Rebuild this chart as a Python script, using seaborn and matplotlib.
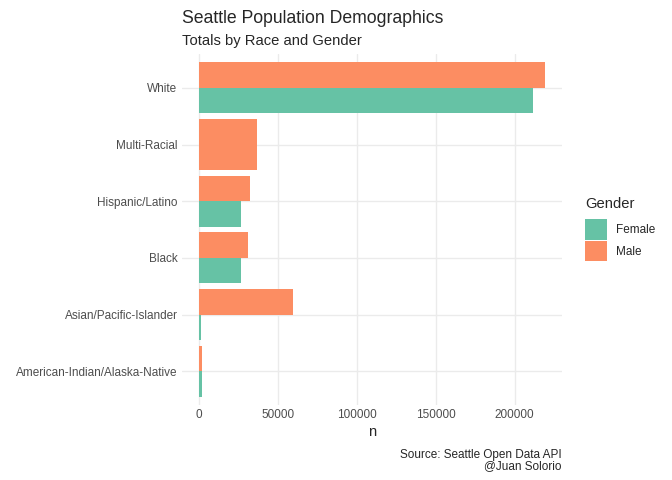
import pandas as pd
import matplotlib.pyplot as plt
import seaborn as sns
from matplotlib.patches import Patch

# Datos
razas = ["American-Indian/Alaska-Native", "Asian/Pacific-Islander", "Black",
         "Hispanic/Latino", "Multi-Racial", "White"]
female = [1900, 1300, 26600, 26600, None, 211800]
male = [1900, 59500, 31000, 32300, 36700, 219000]
generos = ["Female", "Male"]
colores = {"Female": "#66C2A5", "Male": "#FC8D62"}

df = pd.DataFrame({
    "race": razas * 2,
    "Gender": ["Female"] * len(razas) + ["Male"] * len(razas),
    "n": female + male,
}).dropna()

# filas con un solo genero -> barra de ancho completo (como position_dodge de ggplot)
cuenta = df.groupby("race")["Gender"].transform("count")
df_dodge = df[cuenta == 2]
df_solo = df[cuenta == 1]

sns.set_style("white")
plt.rcParams["font.family"] = ["Liberation Sans", "DejaVu Sans"]

fig = plt.figure(figsize=(6.72, 4.8), dpi=100)
ax = fig.add_axes([0.2704, 0.156, 0.8363 - 0.2704, 0.8875 - 0.156])

sns.barplot(data=df_dodge, y="race", x="n", hue="Gender", order=razas,
            hue_order=generos, palette=colores, width=0.9, saturation=1,
            orient="h", legend=False, linewidth=0, ax=ax)
sns.barplot(data=df_solo, y="race", x="n", hue="Gender", order=razas,
            hue_order=generos, palette=colores, width=0.9, saturation=1,
            orient="h", dodge=False, legend=False, linewidth=0, ax=ax)

ax.set_ylim(-0.6, len(razas) - 0.4)
ax.set_xlim(-10950, 229950)
ax.set_xticks([0, 50000, 100000, 150000, 200000])
ax.set_xticklabels(["0", "50000", "100000", "150000", "200000"])

ax.set_axisbelow(True)
ax.grid(True, color="#ebebeb", linewidth=1.0)
for s in ax.spines.values():
    s.set_visible(False)
ax.tick_params(axis="both", length=0, labelsize=8.45, labelcolor="#4d4d4d", pad=3)
ax.set_ylabel("")
ax.set_xlabel("n", fontsize=10.6, labelpad=3)

# titulos
fig.text(0.2704, 0.962, "Seattle Population Demographics", fontsize=12.7,
         ha="left", va="center")
fig.text(0.2704, 0.915, "Totals by Race and Gender", fontsize=10.6,
         ha="left", va="center")
fig.text(0.8363, 0.040, "Source: Seattle Open Data API\n@Juan Solorio",
         fontsize=8.45, ha="right", va="center", linespacing=0.95)

# leyenda
handles = [Patch(facecolor=colores[g], edgecolor="none") for g in generos]
leg = fig.legend(handles, generos, title="Gender", loc="center left",
                 bbox_to_anchor=(0.8705, 0.523), frameon=False, fontsize=8.45,
                 title_fontsize=10.6, handlelength=1.88, handleheight=2.3,
                 handletextpad=0.75, labelspacing=0.1, borderpad=0,
                 borderaxespad=0)
leg._legend_box.align = "left"
leg._legend_box.sep = 6

plt.savefig("out.png", dpi=100)
